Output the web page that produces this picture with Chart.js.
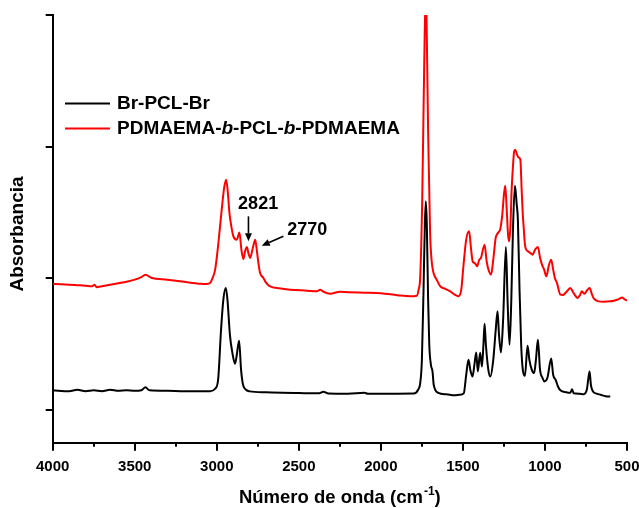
<!DOCTYPE html>
<html>
<head>
<meta charset="utf-8">
<script src="https://cdn.jsdelivr.net/npm/chart.js@4.4.1/dist/chart.umd.min.js"></script>
<style>
  html, body { margin: 0; padding: 0; background: #fff; }
</style>
</head>
<body>
<canvas id="ftir-chart" width="639" height="508"></canvas>
<script>
(function() {
    'use strict';

    // Br-PCL-Br (black trace)
    const blackWave = [
        4000, 3900, 3850, 3800, 3750, 3700, 3650, 3600, 3550, 3500, 3460, 3435, 3410, 3300, 3200, 3100,
        3040, 3010, 2992, 2974, 2960, 2945, 2935, 2920, 2905, 2889, 2878, 2864, 2852, 2840, 2820, 2800,
        2700, 2600, 2500, 2380, 2350, 2320, 2200, 2100, 2080, 2000, 1900, 1800, 1773, 1760, 1750, 1740,
        1732, 1726, 1720, 1712, 1705, 1695, 1685, 1678, 1650, 1600, 1550, 1520, 1495, 1480, 1466, 1455,
        1441, 1430, 1419, 1409, 1395, 1384, 1375, 1368, 1360, 1345, 1333, 1315, 1300, 1289, 1280, 1268,
        1255, 1238, 1228, 1216, 1205, 1195, 1183, 1172, 1165, 1155, 1145, 1135, 1122, 1106, 1095, 1080,
        1066, 1055, 1043, 1030, 1015, 1004, 985, 962, 950, 935, 920, 906, 870, 845, 835, 825,
        790, 764, 745, 735, 728, 720, 707, 690, 660, 630, 602
    ];
    const blackAbs = [
        0.148, 0.141, 0.152, 0.141, 0.148, 0.141, 0.152, 0.144, 0.148, 0.144, 0.148, 0.171, 0.148, 0.144, 0.141, 0.141,
        0.141, 0.160, 0.228, 0.608, 0.837, 0.925, 0.837, 0.570, 0.433, 0.350, 0.418, 0.525, 0.304, 0.190, 0.150, 0.140,
        0.133, 0.129, 0.127, 0.125, 0.137, 0.124, 0.122, 0.129, 0.122, 0.122, 0.122, 0.123, 0.152, 0.205, 0.380, 0.913,
        1.407, 1.584, 1.407, 0.837, 0.494, 0.342, 0.289, 0.190, 0.129, 0.118, 0.110, 0.114, 0.125, 0.266, 0.380, 0.304,
        0.253, 0.342, 0.436, 0.291, 0.433, 0.329, 0.494, 0.654, 0.494, 0.304, 0.253, 0.380, 0.608, 0.748, 0.570, 0.436,
        0.684, 1.237, 0.837, 0.494, 0.837, 1.369, 1.703, 1.559, 1.445, 0.913, 0.494, 0.304, 0.259, 0.487, 0.380, 0.304,
        0.279, 0.380, 0.532, 0.304, 0.243, 0.215, 0.243, 0.390, 0.266, 0.228, 0.175, 0.148, 0.133, 0.129, 0.156, 0.125,
        0.122, 0.119, 0.152, 0.243, 0.291, 0.190, 0.139, 0.125, 0.114, 0.103, 0.101
    ];

    // PDMAEMA-b-PCL-b-PDMAEMA (red trace)
    const redWave = [
        4000, 3950, 3900, 3850, 3800, 3760, 3745, 3732, 3700, 3650, 3600, 3550, 3500, 3460, 3435, 3400,
        3300, 3200, 3100, 3061, 3041, 3025, 3010, 2990, 2970, 2955, 2943, 2933, 2923, 2910, 2899, 2878,
        2862, 2850, 2838, 2828, 2817, 2805, 2797, 2780, 2766, 2755, 2745, 2736, 2716, 2700, 2675, 2600,
        2553, 2450, 2390, 2370, 2350, 2309, 2250, 2200, 2100, 2000, 1900, 1821, 1781, 1770, 1760, 1748,
        1736, 1726, 1718, 1712, 1700, 1690, 1679, 1660, 1638, 1610, 1577, 1550, 1527, 1510, 1497, 1480,
        1462, 1450, 1440, 1430, 1420, 1414, 1400, 1390, 1368, 1355, 1340, 1328, 1315, 1300, 1293, 1280,
        1273, 1260, 1250, 1242, 1233, 1225, 1218, 1210, 1203, 1195, 1188, 1181, 1170, 1160, 1150, 1142,
        1135, 1130, 1122, 1114, 1100, 1090, 1075, 1060, 1043, 1030, 1018, 1005, 992, 975, 962, 950,
        940, 927, 906, 890, 876, 860, 846, 830, 815, 801, 785, 775, 759, 745, 728, 715,
        704, 690, 674, 640, 602, 580, 561, 545, 530, 515, 500
    ];
    const redAbs = [
        0.958, 0.954, 0.951, 0.947, 0.943, 0.939, 0.951, 0.932, 0.939, 0.951, 0.962, 0.973, 0.989, 1.008, 1.027, 1.004,
        0.989, 0.973, 0.958, 0.956, 0.963, 1.004, 1.065, 1.270, 1.521, 1.688, 1.749, 1.658, 1.496, 1.384, 1.318, 1.293,
        1.348, 1.217, 1.146, 1.202, 1.237, 1.179, 1.154, 1.232, 1.293, 1.202, 1.103, 1.040, 1.002, 0.966, 0.938, 0.920,
        0.913, 0.905, 0.900, 0.913, 0.897, 0.882, 0.897, 0.894, 0.890, 0.886, 0.871, 0.862, 0.867, 0.913, 1.014, 1.597,
        2.611, 3.200, 2.662, 2.106, 1.346, 1.125, 1.040, 0.989, 0.938, 0.920, 0.900, 0.875, 0.863, 0.913, 1.090, 1.293,
        1.356, 1.217, 1.125, 1.116, 1.103, 1.090, 1.141, 1.154, 1.255, 1.125, 1.049, 1.027, 1.141, 1.308, 1.331, 1.354,
        1.369, 1.483, 1.635, 1.703, 1.521, 1.331, 1.280, 1.407, 1.673, 1.850, 1.962, 1.977, 1.939, 1.916, 1.901, 1.673,
        1.483, 1.394, 1.255, 1.217, 1.202, 1.192, 1.179, 1.217, 1.237, 1.156, 1.103, 1.065, 1.014, 1.103, 1.141, 1.065,
        1.004, 0.964, 0.875, 0.872, 0.887, 0.909, 0.925, 0.897, 0.867, 0.849, 0.875, 0.900, 0.882, 0.905, 0.925, 0.882,
        0.849, 0.833, 0.824, 0.821, 0.824, 0.829, 0.836, 0.845, 0.853, 0.840, 0.829
    ];

    const seriesLabels = ['Br-PCL-Br', 'PDMAEMA-b-PCL-b-PDMAEMA'];
    const seriesColors = ['#000000', '#ff0000'];

    // Axis setup
    const xMin = 500;
    const xMax = 4000;
    const xStep = 500;
    const yMin = -0.25;
    const yMax = 3;
    const yTicks = [0, 1, 2, 3];

    // Peak labels (wavenumber, absorbance) with arrows
    const peakNotes = [
        { text: '2821', at: [2748, 1.567], from: [2807, 1.470], to: [2807, 1.280] },
        { text: '2770', at: [2448, 1.369], from: [2594, 1.318], to: [2726, 1.247] }
    ];

    const FONT = '"Liberation Sans", Arial, sans-serif';

    function toPoints(xs, ys) {
        return xs.map((w, i) => ({ x: w, y: ys[i] }));
    }

    function drawArrow(ctx, x1, y1, x2, y2) {
        const ang = Math.atan2(y2 - y1, x2 - x1);
        const head = 8;
        const half = 3.5;
        const bx = x2 - head * Math.cos(ang);
        const by = y2 - head * Math.sin(ang);
        ctx.beginPath();
        ctx.moveTo(x1, y1);
        ctx.lineTo(bx, by);
        ctx.stroke();
        ctx.beginPath();
        ctx.moveTo(x2, y2);
        ctx.lineTo(bx + half * Math.sin(ang), by - half * Math.cos(ang));
        ctx.lineTo(bx - half * Math.sin(ang), by + half * Math.cos(ang));
        ctx.closePath();
        ctx.fill();
    }

    // Ticks, titles, legend and peak notes
    const decorPlugin = {
        id: 'decor',
        afterDraw(chart) {
            const { ctx, chartArea: area, scales: { x, y } } = chart;
            ctx.save();
            ctx.strokeStyle = '#000';
            ctx.fillStyle = '#000';
            ctx.lineWidth = 2;

            // x tick marks, major + minor
            for (let w = xMin; w <= xMax; w += xStep / 2) {
                const px = Math.round(x.getPixelForValue(w));
                const len = w % xStep === 0 ? 8 : 4;
                ctx.beginPath();
                ctx.moveTo(px, area.bottom);
                ctx.lineTo(px, area.bottom + len);
                ctx.stroke();
            }
            // y tick marks
            yTicks.forEach(v => {
                const py = Math.round(y.getPixelForValue(v));
                ctx.beginPath();
                ctx.moveTo(area.left, py);
                ctx.lineTo(area.left - 7, py);
                ctx.stroke();
            });

            // y title
            ctx.save();
            ctx.translate(18, 234);
            ctx.rotate(-Math.PI / 2);
            ctx.font = 'bold 19px ' + FONT;
            ctx.textAlign = 'center';
            ctx.textBaseline = 'middle';
            ctx.fillText('Absorbancia', 0, 0);
            ctx.restore();

            // x title with superscript
            const mainFont = 'bold 18.5px ' + FONT;
            const supFont = 'bold 12px ' + FONT;
            const part1 = 'Número de onda (cm';
            const sup = '-1';
            const part2 = ')';
            ctx.font = mainFont;
            const w1 = ctx.measureText(part1).width;
            const w3 = ctx.measureText(part2).width;
            ctx.font = supFont;
            const w2 = ctx.measureText(sup).width + 1;
            const total = w1 + w2 + w3;
            const tx = (area.left + area.right) / 2 - total / 2;
            const base = 503;
            ctx.textAlign = 'left';
            ctx.textBaseline = 'alphabetic';
            ctx.font = mainFont;
            ctx.fillText(part1, tx, base);
            ctx.font = supFont;
            ctx.fillText(sup, tx + w1 + 1, base - 8);
            ctx.font = mainFont;
            ctx.fillText(part2, tx + w1 + w2, base);

            // legend
            const legendRows = [
                [[seriesLabels[0], false]],
                [['PDMAEMA-', false], ['b', true], ['-PCL-', false], ['b', true], ['-PDMAEMA', false]]
            ];
            const rowY = [103.5, 128.5];
            legendRows.forEach((segs, i) => {
                ctx.strokeStyle = seriesColors[i];
                ctx.lineWidth = 2;
                ctx.beginPath();
                ctx.moveTo(65, rowY[i]);
                ctx.lineTo(110, rowY[i]);
                ctx.stroke();
                let lx = 117;
                ctx.textBaseline = 'middle';
                ctx.fillStyle = '#000';
                segs.forEach(([txt, ital]) => {
                    ctx.font = (ital ? 'italic ' : '') + 'bold 19px ' + FONT;
                    ctx.fillText(txt, lx, rowY[i]);
                    lx += ctx.measureText(txt).width;
                });
            });

            // peak notes
            ctx.strokeStyle = '#000';
            ctx.fillStyle = '#000';
            ctx.lineWidth = 1.6;
            ctx.font = 'bold 18px ' + FONT;
            ctx.textAlign = 'center';
            ctx.textBaseline = 'middle';
            peakNotes.forEach(n => {
                ctx.fillText(n.text, x.getPixelForValue(n.at[0]), y.getPixelForValue(n.at[1]));
                drawArrow(ctx,
                    x.getPixelForValue(n.from[0]), y.getPixelForValue(n.from[1]),
                    x.getPixelForValue(n.to[0]), y.getPixelForValue(n.to[1]));
            });

            ctx.restore();
        }
    };

    function createChart() {
        const canvas = document.getElementById('ftir-chart');
        new Chart(canvas, {
            type: 'line',
            data: {
                datasets: [{
                    label: seriesLabels[0],
                    data: toPoints(blackWave, blackAbs),
                    borderColor: seriesColors[0],
                    borderWidth: 2,
                    pointRadius: 0,
                    cubicInterpolationMode: 'monotone'
                }, {
                    label: seriesLabels[1],
                    data: toPoints(redWave, redAbs),
                    borderColor: seriesColors[1],
                    borderWidth: 2,
                    pointRadius: 0,
                    cubicInterpolationMode: 'monotone'
                }]
            },
            options: {
                responsive: false,
                animation: false,
                devicePixelRatio: 1,
                layout: {
                    padding: { top: 15, right: 12, left: 0, bottom: 0 }
                },
                plugins: {
                    legend: { display: false },
                    tooltip: { enabled: false }
                },
                scales: {
                    x: {
                        type: 'linear',
                        reverse: true,
                        min: xMin,
                        max: xMax,
                        grid: { display: false },
                        border: { display: true, color: '#000', width: 2 },
                        ticks: {
                            stepSize: xStep,
                            padding: 7,
                            color: '#000',
                            maxRotation: 0,
                            autoSkip: false,
                            font: { family: FONT, size: 15, weight: 'bold' },
                            callback: function(value) {
                                return String(value);
                            }
                        },
                        afterFit: function(scale) {
                            scale.height = 65.3;
                            scale.paddingLeft = 0;
                            scale.paddingRight = 0;
                        }
                    },
                    y: {
                        type: 'linear',
                        min: yMin,
                        max: yMax,
                        grid: { display: false },
                        border: { display: true, color: '#000', width: 2 },
                        ticks: { display: false },
                        afterFit: function(scale) {
                            scale.width = 52.7;
                            scale.paddingTop = 0;
                            scale.paddingBottom = 0;
                        }
                    }
                }
            },
            plugins: [decorPlugin]
        });
    }

    createChart();
})();
</script>
</body>
</html>
